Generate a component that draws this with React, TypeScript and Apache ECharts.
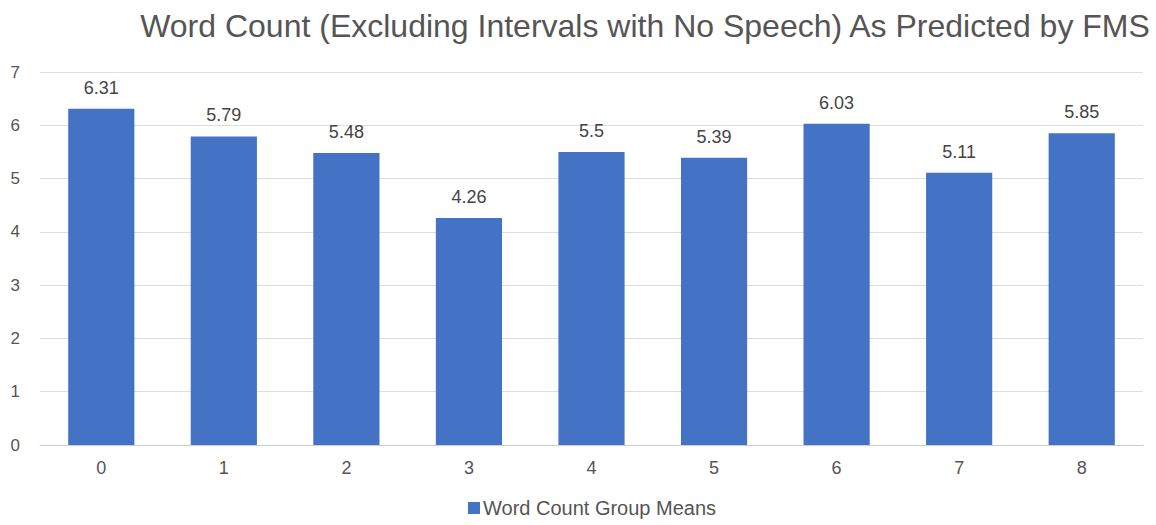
import React, { useEffect, useRef } from "react";
import * as echarts from "echarts";

const categories = ["0", "1", "2", "3", "4", "5", "6", "7", "8"];
const groupMeans = [6.31, 5.79, 5.48, 4.26, 5.5, 5.39, 6.03, 5.11, 5.85];
const seriesName = "Word Count Group Means";
const titleText = "Word Count (Excluding Intervals with No Speech) As Predicted by FMS";

export default function App() {
  const ref = useRef<HTMLDivElement>(null);
  useEffect(() => {
    document.body.style.margin = "0";
    const chart = echarts.init(ref.current!, null, { renderer: "svg" });
    chart.setOption({
      animation: false,
      backgroundColor: "#ffffff",
      textStyle: { fontFamily: "Liberation Sans, Arial, sans-serif" },
      title: {
        text: titleText,
        left: 640,
        textAlign: "center",
        top: 5,
        textStyle: { fontSize: 32, fontWeight: "normal", color: "#555555", fontFamily: "Liberation Sans, Arial, sans-serif" },
      },
      legend: {
        bottom: 2,
        left: 463,
        itemWidth: 12,
        itemHeight: 12,
        icon: "rect",
        itemGap: 4,
        textStyle: { fontSize: 20, color: "#555555", padding: [0, 0, 0, -2] },
        data: [seriesName],
      },
      grid: { left: 40, right: 13, top: 72, bottom: 80, containLabel: false },
      xAxis: {
        type: "category",
        data: categories,
        axisLine: { show: true, lineStyle: { color: "#cccccc", width: 1 } },
        axisTick: { show: false },
        axisLabel: { fontSize: 18, color: "#555555", margin: 14 },
      },
      yAxis: {
        type: "value",
        min: 0,
        max: 7,
        interval: 1,
        axisLine: { show: false },
        axisTick: { show: false },
        splitLine: { lineStyle: { color: "#dddddd", width: 1 } },
        axisLabel: { fontSize: 17, color: "#555555", margin: 20, align: "right" },
      },
      series: [
        {
          name: seriesName,
          type: "bar",
          data: groupMeans,
          barWidth: "54%",
          itemStyle: { color: "#4472C4" },
          label: {
            show: true,
            position: "top",
            distance: 12,
            fontSize: 18,
            color: "#444444",
          },
        },
      ],
    });
    return () => chart.dispose();
  }, []);
  return <div ref={ref} style={{ width: 1156, height: 525 }} />;
}
